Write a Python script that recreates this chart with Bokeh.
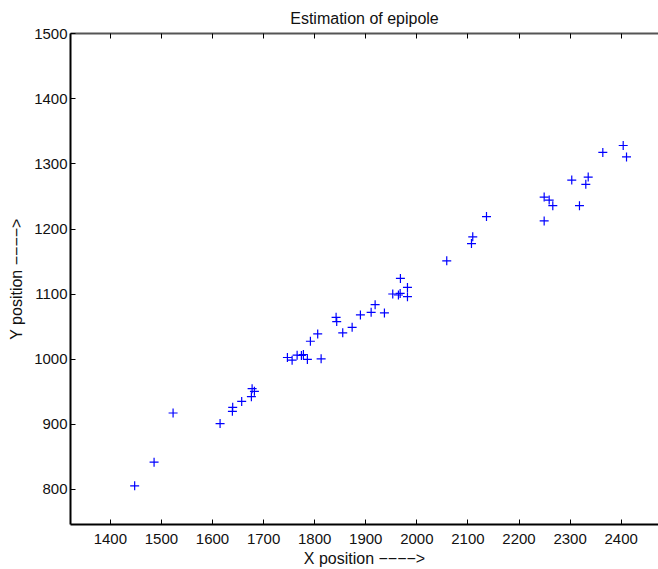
from bokeh.plotting import figure
from bokeh.models import LinearAxis, FixedTicker, Range1d
from bokeh.embed import file_html
from bokeh.resources import INLINE

x_pos = [1447.6, 1485.6, 1522.8, 1614.8, 1639.5, 1638.9, 1657.1, 1676.1, 1677.5, 1682.0,
         1746.6, 1755.8, 1765.6, 1774.0, 1777.9, 1785.7, 1812.6, 1791.6, 1805.9, 1841.9,
         1843.1, 1854.9, 1873.3, 1889.5, 1910.5, 1918.3, 1936.5, 1952.8, 1963.9, 1967.3,
         1967.8, 1981.6, 1981.6, 2058.5, 2106.9, 2109.4, 2136.3, 2249.2, 2259.0, 2266.1,
         2249.2, 2318.3, 2303.2, 2330.7, 2335.4, 2364.0, 2403.9, 2410.4]
y_pos = [805.5, 841.8, 917.3, 901.1, 926.1, 919.9, 935.2, 942.4, 954.7, 950.6,
         1002.6, 998.5, 1006.2, 1005.7, 1007.2, 999.6, 1000.6, 1027.6, 1038.9, 1064.4,
         1057.8, 1040.5, 1049.0, 1068.0, 1072.0, 1083.8, 1071.1, 1100.2, 1098.7, 1101.1,
         1124.1, 1110.3, 1096.1, 1151.2, 1177.7, 1188.0, 1219.1, 1249.2, 1244.6, 1235.9,
         1212.5, 1235.9, 1275.3, 1268.7, 1279.9, 1317.7, 1328.4, 1310.9]

x_ticks = [1400, 1500, 1600, 1700, 1800, 1900, 2000, 2100, 2200, 2300, 2400]
y_ticks = [800, 900, 1000, 1100, 1200, 1300, 1400, 1500]

FONT = "Liberation Sans"

p = figure(width=658, height=569, output_backend="svg", toolbar_location=None,
           x_range=Range1d(1322, 2473), y_range=Range1d(746, 1500.5),
           title="Estimation of epipole", x_axis_type=None, y_axis_type=None,
           min_border_left=70, min_border_right=0, min_border_top=33, min_border_bottom=43)
p.outline_line_color = None
p.grid.visible = False
p.background_fill_color = "white"
p.border_fill_color = "white"

p.title.align = "center"
p.title.vertical_align = "top"
p.title.text_font = FONT
p.title.text_font_size = "16px"
p.title.text_font_style = "normal"
p.title.text_color = "#111111"
p.title.standoff = 10

xaxis = LinearAxis(ticker=FixedTicker(ticks=x_ticks), axis_label="X position \u2212\u2212\u2212\u2212>")
yaxis = LinearAxis(ticker=FixedTicker(ticks=y_ticks), axis_label="Y position \u2212\u2212\u2212\u2212>")
top = LinearAxis(ticker=FixedTicker(ticks=x_ticks))

for ax in (xaxis, yaxis, top):
    ax.major_tick_in = 5
    ax.major_tick_out = 0
    ax.minor_tick_line_color = None
    ax.major_tick_line_color = "black"
    ax.major_tick_line_width = 1
    ax.major_label_text_font = FONT
    ax.major_label_text_font_size = "15px"
    ax.major_label_text_color = "#111111"
    ax.axis_label_text_font = FONT
    ax.axis_label_text_font_size = "16px"
    ax.axis_label_text_font_style = "normal"
    ax.axis_label_text_color = "#111111"
    ax.axis_line_color = "black"
    ax.axis_line_width = 2

xaxis.major_label_standoff = 9
xaxis.axis_label_standoff = 3
yaxis.major_label_standoff = 3
yaxis.axis_label_standoff = 6
top.major_label_text_font_size = "1px"
top.major_label_text_color = None
top.major_label_standoff = 0
top.axis_line_color = "#555555"

p.add_layout(xaxis, "below")
p.add_layout(yaxis, "left")
p.add_layout(top, "above")

p.scatter(x_pos, y_pos, marker="cross", size=9, line_color="#0000ff", line_width=1.2)

open("out.html", "w").write(file_html(p, INLINE))
